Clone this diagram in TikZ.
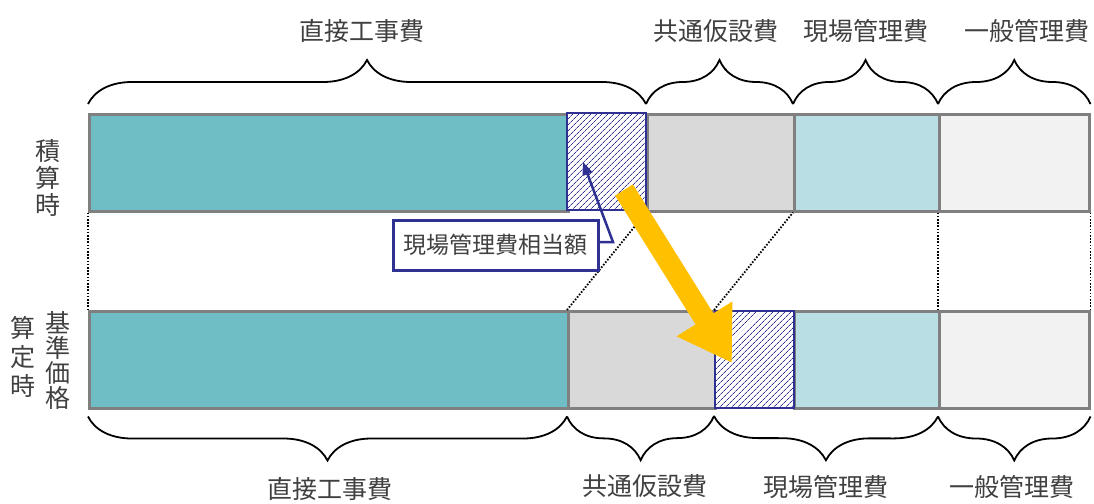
\documentclass[tikz,border=0pt]{standalone}
\usepackage{fontspec}
\newfontfamily\jpfont{Noto Sans CJK JP}
\usetikzlibrary{decorations.pathreplacing,patterns.meta,arrows.meta}

\definecolor{costteal}{HTML}{6FBEC6}
\definecolor{costgray}{HTML}{D9D9D9}
\definecolor{costblue}{HTML}{B9DFE4}
\definecolor{costlight}{HTML}{F2F2F2}
\definecolor{edgegray}{HTML}{808080}
\definecolor{marknavy}{HTML}{2E3192}
\definecolor{moveyellow}{HTML}{FFC000}
\definecolor{textgray}{HTML}{404040}

\begin{document}
\begin{tikzpicture}[x=1pt,y=-1pt,
   blk/.style={draw=edgegray,line width=2.5pt,minimum height=97pt,inner sep=0pt,anchor=north west},
   hatch/.style={blk,draw=marknavy,line width=2pt,preaction={fill=white},
      pattern={Lines[angle=45,distance=4pt,line width=0.8pt]},pattern color=marknavy},
   lbl/.style={font=\jpfont\fontsize{25}{27}\selectfont,text=textgray,inner sep=0pt},
   gapline/.style={dash pattern=on 1.6pt off 1.6pt,line width=1.8pt},
   bracedeco/.style={decorate,decoration={brace,amplitude=44pt},line width=1.8pt}]
   \useasboundingbox (0,0) rectangle (1094,503);

   % top row
   \node[blk,fill=costteal,minimum width=479pt] (t1) at (88,113) {};
   \node[blk,fill=costgray,minimum width=147pt] (t3) at (646,113) {};
   \node[blk,fill=costblue,minimum width=145pt] (t4) at (793,113) {};
   \node[blk,fill=costlight,minimum width=150pt] (t5) at (938,113) {};
   \node[hatch,minimum width=79pt] (t2) at (567,113) {};

   % bottom row
   \node[blk,fill=costteal,minimum width=479pt] (b1) at (88,310) {};
   \node[blk,fill=costgray,minimum width=147pt] (b2) at (567,310) {};
   \node[blk,fill=costblue,minimum width=145pt] (b4) at (793,310) {};
   \node[blk,fill=costlight,minimum width=150pt] (b5) at (938,310) {};
   \node[hatch,minimum width=79pt] (b3) at (714,310) {};

   \draw[gapline] (t1.south west) -- (b1.north west);
   \draw[gapline] (t5.south west) -- (b5.north west);
   \draw[gapline] (t5.south east) -- (b5.north east);
   \draw[gapline] (b2.north west) -- (t3.south west);
   \draw[gapline] (b3.north west) -- (t4.south west);

   % braces and labels above
   \draw[bracedeco] ([yshift=9pt]t1.north west) -- ([yshift=9pt]t3.north west);
   \draw[bracedeco] ([yshift=9pt]t3.north west) -- ([yshift=9pt]t4.north west);
   \draw[bracedeco] ([yshift=9pt]t4.north west) -- ([yshift=9pt]t5.north west);
   \draw[bracedeco] ([yshift=9pt]t5.north west) -- ([yshift=9pt]t5.north east);
   \node[lbl] (topdirect) at (362,31) {直接工事費};
   \node[lbl] (topcommon) at (716,31) {共通仮設費};
   \node[lbl] (topsite) at (866,31) {現場管理費};
   \node[lbl] (topgeneral) at (1027,31) {一般管理費};

   % braces and labels below
   \draw[bracedeco] ([yshift=-7pt]b2.south west) -- ([yshift=-7pt]b1.south west);
   \draw[bracedeco] ([yshift=-7pt]b3.south west) -- ([yshift=-7pt]b2.south west);
   \draw[bracedeco] ([yshift=-7pt]b5.south west) -- ([yshift=-7pt]b3.south west);
   \draw[bracedeco] ([yshift=-7pt]b5.south east) -- ([yshift=-7pt]b5.south west);
   \node[lbl] (botdirect) at (330,489) {直接工事費};
   \node[lbl] (botcommon) at (645,486) {共通仮設費};
   \node[lbl] (botsite) at (826,487) {現場管理費};
   \node[lbl] (botgeneral) at (1012,487) {一般管理費};

   % row labels
   \node[lbl,align=center] (whenest) at (48,178) {積\\算\\時};
   \node[lbl,align=center,font=\jpfont\fontsize{25}{25}\selectfont] (whenbase) at (58,361) {基\\準\\価\\格};
   \node[lbl,align=center,font=\jpfont\fontsize{25}{29}\selectfont] (whencalc) at (23,357) {算\\定\\時};

   % moving arrow
   \coordinate (movefrom) at (624,190);
   \coordinate (moveto) at (732,363);
   \draw[moveyellow,line width=21pt,-{Triangle[length=52pt,width=62pt]}] (movefrom) -- (moveto);

   % callout
   \node[draw=marknavy,line width=3pt,fill=white,minimum width=205pt,minimum height=50pt,
      inner sep=0pt,font=\jpfont\fontsize{23}{26}\selectfont,text=textgray] (sitemark) at (495.5,245) {現場管理費相当額};
   \coordinate (markknee) at (613,242);
   \coordinate (marktip) at (583,162);
   \draw[marknavy,line width=2.5pt,-{Triangle[length=13pt,width=10pt]}] (sitemark.east |- markknee) -- (markknee) -- (marktip);
\end{tikzpicture}
\end{document}
